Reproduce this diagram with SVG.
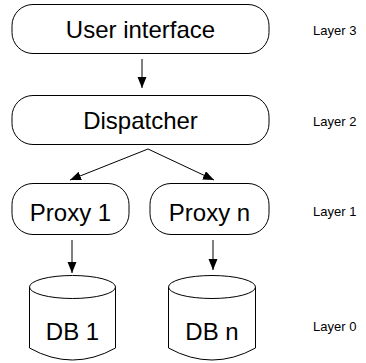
<svg xmlns="http://www.w3.org/2000/svg" width="366" height="363" viewBox="0 0 366 363">
<defs>
<style>
.box{fill:#fff;stroke:#000;stroke-width:1}
.lbl{font-family:"Liberation Sans",Arial,sans-serif;font-size:24px;fill:#000;text-anchor:middle}
.layer{font-family:"Liberation Sans",Arial,sans-serif;font-size:13px;fill:#000}
.conn{stroke:#000;stroke-width:1;fill:none}
</style>
<marker id="ah" markerUnits="userSpaceOnUse" markerWidth="12" markerHeight="10" refX="11" refY="4.5" orient="auto">
<path d="M0,0 L11,4.5 L0,9 Z" fill="#000"/>
</marker>
</defs>
<rect width="366" height="363" fill="#fff"/>
<g id="connectors">
<line class="conn" x1="142" y1="59" x2="142" y2="88" marker-end="url(#ah)"/>
<line class="conn" x1="148" y1="149" x2="70" y2="180" marker-end="url(#ah)"/>
<line class="conn" x1="148" y1="149" x2="214" y2="180" marker-end="url(#ah)"/>
<line class="conn" x1="72" y1="240" x2="72" y2="273" marker-end="url(#ah)"/>
<line class="conn" x1="213" y1="240" x2="213" y2="270" marker-end="url(#ah)"/>
</g>
<g id="ui">
<rect class="box" x="12" y="4.5" width="257" height="49" rx="21" ry="21"/>
<text class="lbl" x="140.5" y="38">User interface</text>
</g>
<g id="dispatcher">
<rect class="box" x="12" y="95.5" width="257" height="49" rx="21" ry="21"/>
<text class="lbl" x="140.5" y="129">Dispatcher</text>
</g>
<g id="proxy1">
<rect class="box" x="12" y="183.5" width="117" height="51" rx="21" ry="21"/>
<text class="lbl" x="70.5" y="221">Proxy 1</text>
</g>
<g id="proxyn">
<rect class="box" x="150" y="183.5" width="119" height="51" rx="21" ry="21"/>
<text class="lbl" x="209.5" y="221">Proxy n</text>
</g>
<g id="db1">
<path class="box" d="M29.5,287 L29.5,348 Q72.5,372 115.5,348 L115.5,287"/>
<ellipse class="box" cx="72.5" cy="287" rx="43" ry="11.5"/>
<text class="lbl" x="72.5" y="340">DB 1</text>
</g>
<g id="dbn">
<path class="box" d="M168.5,287 L168.5,348 Q212,372 255.5,348 L255.5,287"/>
<ellipse class="box" cx="212" cy="287" rx="43.5" ry="11.5"/>
<text class="lbl" x="212" y="340">DB n</text>
</g>
<g id="layers">
<text class="layer" x="313" y="35">Layer 3</text>
<text class="layer" x="313" y="126">Layer 2</text>
<text class="layer" x="313" y="216">Layer 1</text>
<text class="layer" x="313" y="331">Layer 0</text>
</g>
</svg>
